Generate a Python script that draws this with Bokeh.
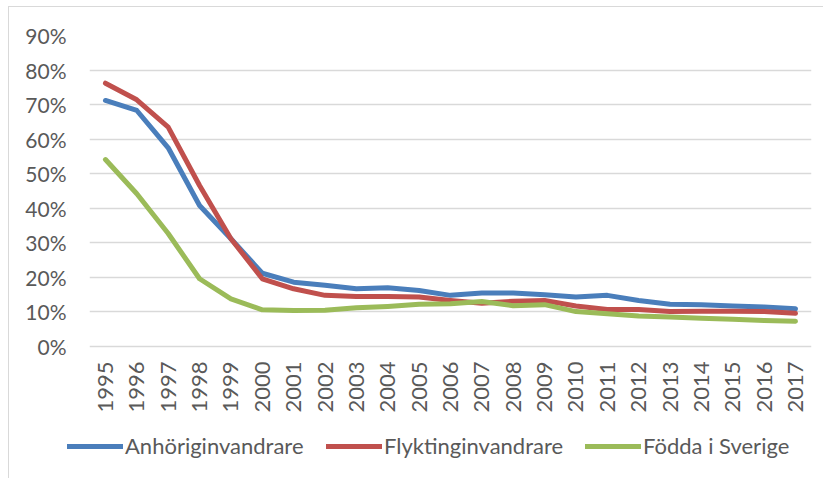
from bokeh.plotting import figure
from bokeh.models import (FixedTicker, PrintfTickFormatter, Legend, LegendItem, Range1d,
                          BoxAnnotation)
from bokeh.embed import file_html
from bokeh.resources import INLINE
import math

years = list(range(1995, 2018))
anhorig = [71.2, 68.3, 57.5, 40.8, 31.2, 21.2, 18.6, 17.7, 16.7, 17.0, 16.2, 14.8, 15.5, 15.5,
           15.0, 14.3, 14.8, 13.3, 12.2, 12.1, 11.7, 11.4, 10.9]
flykting = [76.2, 71.4, 63.5, 46.6, 31.2, 19.6, 16.7, 14.8, 14.5, 14.5, 14.3, 13.3, 12.5, 13.1,
            13.3, 11.7, 10.7, 10.7, 10.1, 10.2, 10.2, 10.1, 9.6]
fodda = [54.1, 44.2, 32.7, 19.6, 13.8, 10.6, 10.4, 10.5, 11.2, 11.6, 12.2, 12.4, 13.0, 11.8,
         12.1, 10.1, 9.5, 8.8, 8.5, 8.2, 7.9, 7.5, 7.3]
y_ticks = [0, 10, 20, 30, 40, 50, 60, 70, 80, 90]
series_names = ["Anhöriginvandrare", "Flyktinginvandrare", "Födda i Sverige"]
colors = ["#4A7EBB", "#C0504D", "#9BBB59"]

FONT = "Lato"
TXT = "#595959"

# frame: 744 px wide (year step ~31.36 px), 431 px tall (0..90 % over 311 px, room below for labels + legend)
p = figure(frame_width=744, frame_height=431, output_backend="svg", toolbar_location=None,
           x_range=Range1d(1993.79, 2017.51), y_range=Range1d(-34.73, 90),
           min_border_left=58, min_border_right=12, min_border_top=28, min_border_bottom=12)
p.outline_line_color = None
p.styles = {"margin-left": "8px", "margin-top": "6px",
            "border-left": "1px solid #d9d9d9", "border-top": "1px solid #d9d9d9"}

p.xgrid.grid_line_color = None
p.ygrid.grid_line_color = "#d9d9d9"
p.ygrid.grid_line_width = 1.5

# white mask so the gridlines start just left of the first year, as in the reference
p.add_layout(BoxAnnotation(right=1994.5, fill_color="white", fill_alpha=1.0, line_color=None))

renderers = []
for vals, c in zip([anhorig, flykting, fodda], colors):
    r = p.line(years, vals, line_color=c, line_width=5, line_cap="round", line_join="round")
    renderers.append(r)

p.yaxis.ticker = FixedTicker(ticks=y_ticks)
p.yaxis.formatter = PrintfTickFormatter(format="%d%%")
p.xaxis.ticker = FixedTicker(ticks=years)
p.xaxis.major_label_orientation = math.pi / 2
p.xaxis.fixed_location = 0
for ax in [p.xaxis[0], p.yaxis[0]]:
    ax.axis_line_color = None
    ax.major_tick_line_color = None
    ax.minor_tick_line_color = None
    ax.major_tick_out = 0
    ax.major_tick_in = 0
    ax.minor_tick_out = 0
    ax.major_label_text_font = FONT
    ax.major_label_text_color = TXT
p.yaxis.major_label_text_font_size = "21px"
p.xaxis.major_label_text_font_size = "22px"
p.yaxis.major_label_standoff = 1
p.xaxis.major_label_standoff = 15

legend = Legend(items=[LegendItem(label=n, renderers=[r]) for n, r in zip(series_names, renderers)],
                orientation="horizontal", location=(0, 7),
                label_text_font=FONT, label_text_font_size="22px", label_text_color=TXT,
                glyph_width=56, glyph_height=22, label_height=22, label_standoff=2,
                label_width=184, spacing=17,
                padding=0, margin=0, border_line_color=None, background_fill_alpha=0)
p.add_layout(legend, "center")

open("out.html", "w").write(file_html(p, INLINE))
